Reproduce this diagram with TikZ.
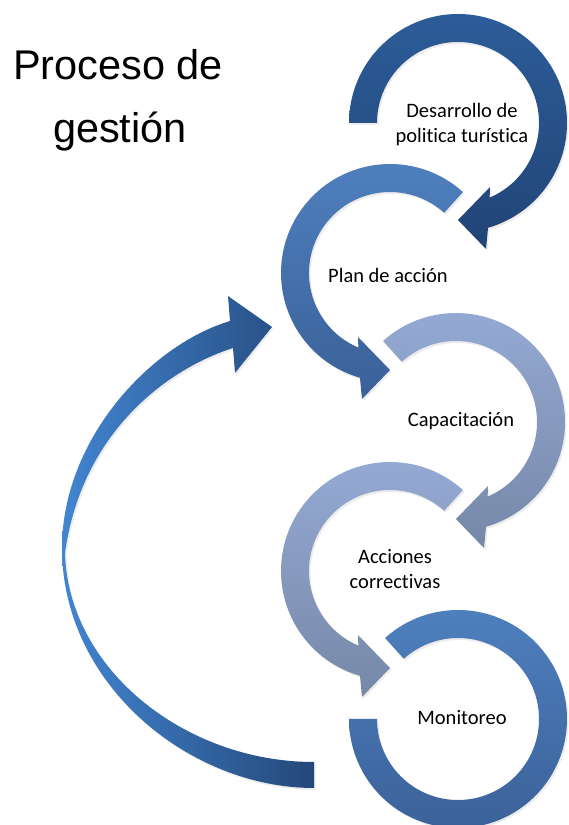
\documentclass[tikz,border=0pt]{standalone}
\usepackage{fontspec}
\setmainfont{Carlito}[Ligatures=NoCommon]
\newfontfamily\titlefont{Liberation Sans}
\usetikzlibrary{shadows}

\definecolor{navytop}{RGB}{44,92,152}
\definecolor{navybot}{RGB}{33,68,118}
\definecolor{midtop}{RGB}{79,129,191}
\definecolor{midbot}{RGB}{58,96,152}
\definecolor{palet}{RGB}{150,171,213}
\definecolor{paleb}{RGB}{118,136,168}
\definecolor{backl}{RGB}{66,133,208}
\definecolor{backr}{RGB}{36,72,122}

\tikzset{
  softshadow/.style={drop shadow={opacity=0.15,shadow xshift=1.5pt,shadow yshift=-2pt}},
  ringnavy/.style={top color=navytop, bottom color=navybot, softshadow},
  ringmid/.style={top color=midtop, bottom color=midbot, softshadow},
  ringpale/.style={top color=palet, bottom color=paleb, softshadow},
  cycletext/.style={font=\fontsize{20.5}{25}\selectfont, align=center},
  titletext/.style={font=\titlefont\fontsize{41.5}{50}\selectfont, anchor=base},
}

\begin{document}
\begin{tikzpicture}[x=1pt,y=1pt]
\useasboundingbox (0,0) rectangle (568,825);

% title
\node[titletext] (title1) at (118,745) {Proceso de};
\node[titletext] (title2) at (120,682) {gestión};

% top ring, clockwise
\begin{scope}[shift={(458,702)}]
\shade[ringnavy] (180:109) arc[start angle=180, end angle=-74, radius=109]
  -- (28,-126) -- (0,-97) -- (32,-64) -- (-67:81)
  arc[start angle=-67, end angle=180, radius=81] -- cycle;
\end{scope}

% second ring, anticlockwise
\begin{scope}[shift={(390,552)}]
\shade[ringmid] (48:109) arc[start angle=48, end angle=254, radius=109]
  -- (-28,-126) -- (0,-97) -- (-32,-64) -- (247:81)
  arc[start angle=247, end angle=48, radius=81] -- cycle;
\end{scope}

% third ring
\begin{scope}[shift={(456,403)}]
\shade[ringpale] (132:109) arc[start angle=132, end angle=-74, radius=109]
  -- (28,-126) -- (0,-97) -- (32,-64) -- (-67:81)
  arc[start angle=-67, end angle=132, radius=81] -- cycle;
\end{scope}

% fourth ring
\begin{scope}[shift={(390,254)}]
\shade[ringpale] (48:109) arc[start angle=48, end angle=254, radius=109]
  -- (-28,-126) -- (0,-97) -- (-32,-64) -- (247:81)
  arc[start angle=247, end angle=48, radius=81] -- cycle;
\end{scope}

% last ring, no head
\begin{scope}[shift={(458,106)}]
\shade[ringmid] (132:109) arc[start angle=132, end angle=-180, radius=109]
  -- (-180:81) arc[start angle=-180, end angle=132, radius=81] -- cycle;
\end{scope}

% long arrow back up to the plan, thin on the left side
\shade[left color=backl, right color=backr, softshadow]
  (314,37) .. controls (190,37) and (62,140) .. (62,277)
  .. controls (62,385) and (150,480) .. (230,504)
  -- (228,529) -- (272,498) -- (235,452) -- (233,477)
  .. controls (170,457) and (82,395) .. (65,272)
  .. controls (68,156) and (185,63) .. (314,63) -- cycle;

% texts
\node[cycletext] (politica) at (462,700) {Desarrollo de\\politica turística};
\node[cycletext] (plan) at (388,550) {Plan de acción};
\node[cycletext] (capac) at (461,404) {Capacitación};
\node[cycletext] (acciones) at (395,256) {Acciones\\correctivas};
\node[cycletext] (monit) at (462,107) {Monitoreo};

\end{tikzpicture}
\end{document}
